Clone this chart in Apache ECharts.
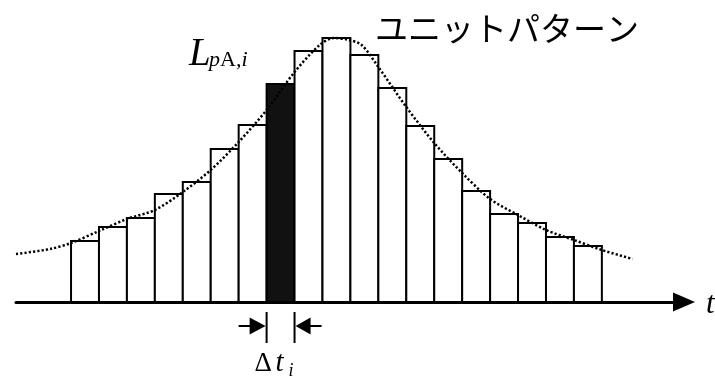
<!DOCTYPE html>
<html>
<head>
<meta charset="utf-8">
<script src="https://cdn.jsdelivr.net/npm/echarts@6/dist/echarts.min.js"></script>
<style>
  html, body { margin: 0; padding: 0; background: #fff; }
  #chart { width: 715px; height: 377px; }
</style>
</head>
<body>
<div id="chart"></div>
<script>
// Time steps (start of each interval Δt) and the level held over each step
const barStart = [0, 1, 2, 3, 4, 5, 6, 7, 8, 9, 10, 11, 12, 13, 14, 15, 16, 17, 18];
const barLevel = [61, 75, 84, 108, 120, 153, 177, 218, 251, 264, 247, 214, 176, 143, 111, 88, 79, 65, 56];
const highlightIndex = 7;

// Continuous unit pattern (dotted curve)
const curveTime  = [-1.97, -0.75, 0, 1, 2, 3, 4, 5, 6, 7, 8, 8.9, 9.4, 9.95, 10.4, 11, 12, 13, 14, 15, 16, 17, 18, 19, 20.1];
const curveLevel = [48, 53, 59, 71, 83, 92, 110, 132, 160, 192, 230, 257, 264, 262, 257, 235, 195, 159, 129, 103, 87, 72, 62, 52, 43];

const serif = '"Liberation Serif", "DejaVu Serif", serif';
const chart = echarts.init(document.getElementById('chart'), null, { renderer: 'canvas' });

const barData = barStart.map((t, i) => [t, barLevel[i]]);
const curveData = curveTime.map((t, i) => [t, curveLevel[i]]);

chart.setOption({
  backgroundColor: '#fff',
  animation: false,
  grid: { left: 16, right: 31, top: 20, bottom: 75 },
  xAxis: {
    type: 'value',
    min: -1.97,
    max: 21.94,
    axisLine: {
      show: true,
      onZero: false,
      symbol: ['none', 'triangle'],
      symbolSize: [19, 22],
      lineStyle: { color: '#000', width: 3 }
    },
    axisTick: { show: false },
    axisLabel: { show: false },
    splitLine: { show: false }
  },
  yAxis: {
    type: 'value',
    min: 0,
    max: 282,
    show: false
  },
  series: [
    {
      type: 'custom',
      data: barData,
      z: 2,
      renderItem: function (params, api) {
        const t = api.value(0);
        const h = api.value(1);
        const p0 = api.coord([t, 0]);
        const p1 = api.coord([t + 1, h]);
        const dark = params.dataIndex === highlightIndex;
        return {
          type: 'rect',
          shape: { x: p0[0], y: p1[1], width: p1[0] - p0[0], height: p0[1] - p1[1] },
          style: { fill: dark ? '#111' : '#fff', stroke: '#000', lineWidth: 2 }
        };
      }
    },
    {
      type: 'line',
      data: curveData,
      z: 3,
      smooth: 0.3,
      showSymbol: false,
      lineStyle: { color: '#000', width: 2.5, type: [2.2, 2.1] }
    }
  ]
});

// Annotations placed from the axis scale: width of the highlighted step and labels
const a = chart.convertToPixel({ gridIndex: 0 }, [barStart[highlightIndex], 0]);
const b = chart.convertToPixel({ gridIndex: 0 }, [barStart[highlightIndex] + 1, 0]);
const xa = a[0], xb = b[0], ay = a[1];
const my = ay + 24;

function txt(x, baseline, str, size, italic, family) {
  return {
    type: 'text',
    z: 10,
    style: {
      x: x,
      y: baseline - 0.34 * size,
      text: str,
      fill: '#000',
      font: (italic ? 'italic ' : '') + size + 'px ' + family,
      align: 'left',
      verticalAlign: 'middle'
    }
  };
}

chart.setOption({
  graphic: [
    // extent markers
    { type: 'line', z: 10, shape: { x1: xa, y1: ay + 10, x2: xa, y2: ay + 41 }, style: { stroke: '#000', lineWidth: 2 } },
    { type: 'line', z: 10, shape: { x1: xb, y1: ay + 10, x2: xb, y2: ay + 41 }, style: { stroke: '#000', lineWidth: 2 } },
    { type: 'line', z: 10, shape: { x1: xa - 28, y1: my, x2: xa - 15, y2: my }, style: { stroke: '#000', lineWidth: 2 } },
    { type: 'polygon', z: 10, shape: { points: [[xa - 17, my - 8.5], [xa - 17, my + 8.5], [xa - 1, my]] }, style: { fill: '#000' } },
    { type: 'line', z: 10, shape: { x1: xb + 14, y1: my, x2: xb + 27, y2: my }, style: { stroke: '#000', lineWidth: 2 } },
    { type: 'polygon', z: 10, shape: { points: [[xb + 1, my], [xb + 16, my - 8.5], [xb + 16, my + 8.5]] }, style: { fill: '#000' } },
    // Δt_i
    txt(xa - 12, 373, 'Δ', 27, false, serif),
    txt(xa + 9, 373, 't', 29, true, serif),
    txt(xa + 22, 377, 'i', 18, true, serif),
    // L_pA,i
    txt(189, 68, 'L', 39, true, serif),
    {
      type: 'text',
      z: 10,
      style: {
        x: 209,
        y: 68 - 0.34 * 22,
        text: '{i|p}{r|A}{i|,i}',
        align: 'left',
        verticalAlign: 'middle',
        rich: {
          i: { font: 'italic 22px ' + serif, fill: '#000' },
          r: { font: '22px ' + serif, fill: '#000' }
        }
      }
    },
    // axis name
    txt(706, 315, 't', 31, true, serif),
    // curve name
    {
      type: 'text',
      z: 10,
      style: {
        x: 375,
        y: 28,
        text: 'ユニットパターン',
        fill: '#000',
        font: '33px "Noto Sans CJK JP", sans-serif',
        align: 'left',
        verticalAlign: 'middle'
      }
    }
  ]
});
</script>
</body>
</html>
